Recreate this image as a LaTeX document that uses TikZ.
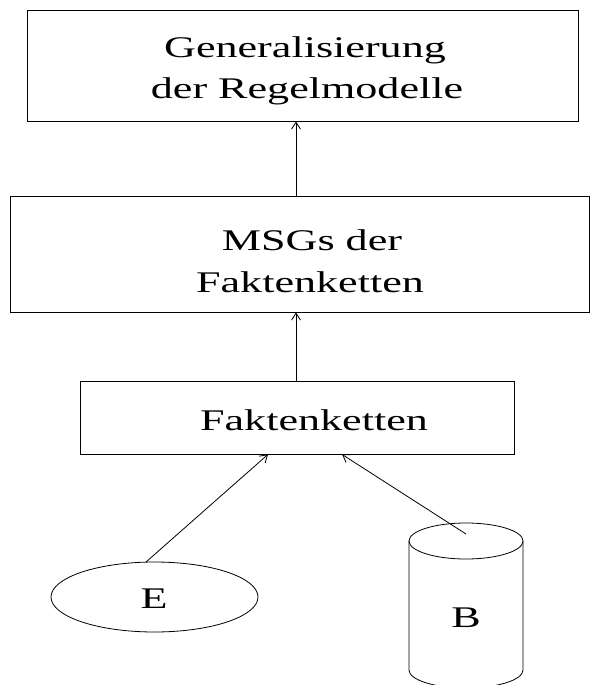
\documentclass[tikz,border=0pt]{standalone}
\usepackage{fontspec}
\setmainfont{Liberation Serif}
\usetikzlibrary{arrows.meta,shapes.geometric}
\newcommand{\wt}[1]{\scalebox{1.47}[1]{#1}}
\begin{document}
\begin{tikzpicture}[x=1pt,y=-1pt,
  box/.style={draw,line width=0.8pt,inner sep=0pt},
  lbl/.style={font=\fontsize{30}{36}\selectfont,inner sep=0pt,anchor=base},
  arr/.style={line width=0.8pt,-{Straight Barb[length=7pt,width=9pt]}}]
\useasboundingbox (0,0) rectangle (607,685);
\node[box,minimum width=551pt,minimum height=111pt] (gen) at (302.5,65.5) {};
\node[lbl] (gen1) at (305,57) {\wt{Generalisierung}};
\node[lbl] (gen2) at (307,98) {\wt{der Regelmodelle}};
\node[box,minimum width=579pt,minimum height=116pt] (msg) at (299.5,254) {};
\node[lbl] (msg1) at (312,250) {\wt{MSGs der}};
\node[lbl] (msg2) at (310,292) {\wt{Faktenketten}};
\node[box,minimum width=434pt,minimum height=73pt] (fak) at (297,417.5) {};
\node[lbl] (fak1) at (314,430) {\wt{Faktenketten}};
\node[draw,ellipse,line width=0.8pt,minimum width=207pt,minimum height=70pt,inner sep=0pt] (e) at (154.5,597) {};
\node[lbl] (el) at (154,608) {\wt{E}};
% cylinder
\draw[line width=0.8pt] (466,541) ellipse [x radius=57, y radius=18];
\draw[line width=0.8pt] (409,541) -- (409,670) arc[start angle=180,end angle=0,x radius=57,y radius=18] -- (523,541);
\node[lbl] (bl) at (466,627) {\wt{B}};
\coordinate (bs) at (466,534);
\coordinate (es) at (146,562);
\draw[arr] (msg.north -| 296,0) -- (gen.south -| 296,0);
\draw[arr] (fak.north -| 296,0) -- (msg.south -| 296,0);
\draw[arr] (es) -- (fak.south -| 268,0);
\draw[arr] (bs) -- (fak.south -| 342,0);
\end{tikzpicture}
\end{document}
